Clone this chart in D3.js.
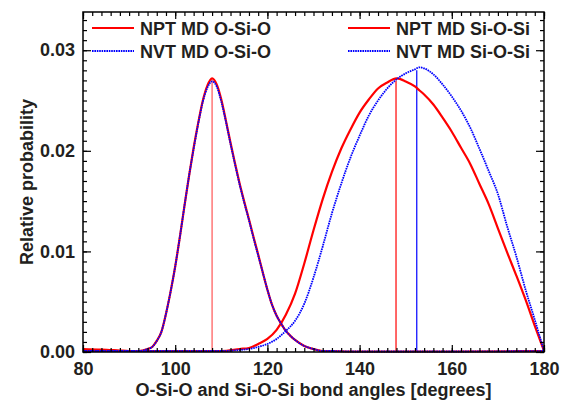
<!DOCTYPE html>
<html>
<head>
<meta charset="utf-8">
<script src="https://cdn.jsdelivr.net/npm/d3@7"></script>
<style>
  body { margin: 0; background: #fff; }
  svg text { font-family: "Liberation Sans", Arial, sans-serif; font-weight: bold; fill: #231f20; }
</style>
</head>
<body>
<div id="chart"></div>
<script>
// O-Si-O bond angle distribution (degrees, relative probability)
const osioAngles = [80, 84, 88, 90, 92, 94, 95, 96, 97, 98, 99, 100, 101, 102, 103, 104, 105, 106, 107, 108,
  109, 110, 111, 112, 113, 114, 115, 116, 117, 118, 119, 120, 121, 122, 123, 124, 125, 126, 128, 130,
  132, 134, 138, 145, 160, 180];
const osioNPT = [0.0003, 0.00025, 0.00015, 0.0001, 0.0001, 0.0003, 0.0005, 0.0011, 0.0020, 0.0038, 0.0060, 0.0085, 0.0114, 0.0145, 0.0175, 0.0203, 0.0228, 0.0250, 0.0265, 0.0272,
  0.0266, 0.0251, 0.0230, 0.0208, 0.0187, 0.0167, 0.0149, 0.0132, 0.0114, 0.0097, 0.0079, 0.0062, 0.0047, 0.0036, 0.0028, 0.0021, 0.0016, 0.0012, 0.0006, 0.0003,
  0.0001, 0.0001, 0.00005, 0.00005, 0.00005, 0.0001];
const osioNVT = [0.0001, 0.0001, 0.0001, 0.0001, 0.0001, 0.0003, 0.0005, 0.0011, 0.0020, 0.0038, 0.0060, 0.0085, 0.0114, 0.0145, 0.0175, 0.0202, 0.0227, 0.0249, 0.0263, 0.0269,
  0.0264, 0.0249, 0.0229, 0.0207, 0.0186, 0.0166, 0.0148, 0.0131, 0.0113, 0.0096, 0.0079, 0.0062, 0.0047, 0.0036, 0.0028, 0.0021, 0.0016, 0.0012, 0.0006, 0.0003,
  0.0001, 0.0001, 0.00005, 0.00005, 0.00005, 0.0001];

// Si-O-Si bond angle distribution
const siosiAngles = [80, 100, 105, 110, 114, 116, 118, 120, 122, 124, 126, 128, 130, 132, 134, 136, 138, 140, 142, 144,
  146, 148, 150, 152, 153, 154, 156, 158, 160, 162, 164, 166, 168, 170, 172, 174, 176, 178, 180];
const siosiNPT = [0.0001, 0.0001, 0.0001, 0.0001, 0.0003, 0.0004, 0.0008, 0.0013, 0.0022, 0.0037, 0.0058, 0.0088, 0.0121, 0.0152, 0.0179, 0.0202, 0.0221, 0.0238, 0.0251, 0.0262,
  0.0268, 0.0272, 0.0269, 0.0264, 0.0260, 0.0256, 0.0246, 0.0233, 0.0219, 0.0203, 0.0187, 0.0167, 0.0147, 0.0123, 0.0099, 0.0076, 0.0052, 0.0026, 0.0001];
const siosiNVT = [0.0001, 0.0001, 0.0001, 0.0001, 0.0002, 0.0003, 0.0005, 0.0008, 0.0013, 0.0021, 0.0031, 0.0048, 0.0074, 0.0105, 0.0138, 0.0167, 0.0193, 0.0215, 0.0235, 0.0250,
  0.0262, 0.0271, 0.0277, 0.0281, 0.0283, 0.0282, 0.0276, 0.0266, 0.0254, 0.0240, 0.0223, 0.0202, 0.0180, 0.0157, 0.0125, 0.0095, 0.0062, 0.0032, 0.0001];

// peak position markers
const peakAngles = [108, 147.9, 152.4];
const peakValues = [0.0271, 0.0270, 0.0280];
const peakColors = ["#ff5555", "#ff0000", "#0000ff"];

const xTicks = [80, 100, 120, 140, 160, 180];
const yTicks = [0, 0.01, 0.02, 0.03];

const legendLabels = ["NPT MD O-Si-O", "NVT MD O-Si-O", "NPT MD Si-O-Si", "NVT MD Si-O-Si"];

const width = 567;
const height = 403;
const margin = { top: 12, right: 23, bottom: 51, left: 83 };

const xScale = d3.scaleLinear()
                 .domain([80, 180])
                 .range([margin.left, width - margin.right]);

const yScale = d3.scaleLinear()
                 .domain([0, 0.0338])
                 .range([height - margin.bottom, margin.top]);

const svg = d3.select('#chart')
              .append('svg')
              .attr('width', width)
              .attr('height', height);

const line = d3.line()
               .curve(d3.curveMonotoneX)
               .x(d => xScale(d[0]))
               .y(d => yScale(d[1]));

const series = [
  { angles: osioAngles, values: osioNPT, color: '#ff0000', dash: null, w: 2.2 },
  { angles: siosiAngles, values: siosiNPT, color: '#ff0000', dash: null, w: 2.2 },
  { angles: osioAngles, values: osioNVT, color: '#0000ff', dash: '1.6,0.8', w: 1.8 },
  { angles: siosiAngles, values: siosiNVT, color: '#0000ff', dash: '1.6,0.8', w: 1.8 }
];

// peak lines
svg.selectAll('.peak')
   .data(peakAngles)
   .enter()
   .append('line')
   .attr('class', 'peak')
   .attr('x1', d => xScale(d))
   .attr('x2', d => xScale(d))
   .attr('y1', yScale(0))
   .attr('y2', (d, i) => yScale(peakValues[i]))
   .attr('stroke', (d, i) => peakColors[i])
   .attr('stroke-width', 1.2);

series.forEach(s => {
  svg.append('path')
     .datum(s.angles.map((a, i) => [a, s.values[i]]))
     .attr('d', line)
     .attr('fill', 'none')
     .attr('stroke', s.color)
     .attr('stroke-width', s.w)
     .attr('stroke-dasharray', s.dash);
});

// axes, ticks inward on all four sides
const plotH = height - margin.top - margin.bottom;
const plotW = width - margin.left - margin.right;

function styleAxis(g) {
  g.select('.domain').remove();
  g.selectAll('line').attr('stroke', '#000').attr('stroke-width', 1.2);
  g.selectAll('text').style('font-size', '18px').attr('fill', '#231f20');
}

const xMinor = d3.range(80, 181, 2);
const yMinor = d3.range(0, 0.0335, 0.001);

svg.append('g')
   .attr('transform', `translate(0, ${height - margin.bottom})`)
   .call(d3.axisBottom(xScale).tickValues(xMinor).tickSizeInner(-4).tickSizeOuter(0).tickFormat(''))
   .call(styleAxis);
svg.append('g')
   .attr('transform', `translate(0, ${height - margin.bottom})`)
   .call(d3.axisBottom(xScale).tickValues(xTicks).tickSizeInner(-7).tickSizeOuter(0).tickPadding(10).tickFormat(d3.format('d')))
   .call(styleAxis);

svg.append('g')
   .attr('transform', `translate(0, ${margin.top})`)
   .call(d3.axisTop(xScale).tickValues(xMinor).tickSizeInner(-4).tickSizeOuter(0).tickFormat(''))
   .call(styleAxis);
svg.append('g')
   .attr('transform', `translate(0, ${margin.top})`)
   .call(d3.axisTop(xScale).tickValues(xTicks).tickSizeInner(-7).tickSizeOuter(0).tickFormat(''))
   .call(styleAxis);

svg.append('g')
   .attr('transform', `translate(${margin.left}, 0)`)
   .call(d3.axisLeft(yScale).tickValues(yMinor).tickSizeInner(-4).tickSizeOuter(0).tickFormat(''))
   .call(styleAxis);
svg.append('g')
   .attr('transform', `translate(${margin.left}, 0)`)
   .call(d3.axisLeft(yScale).tickValues(yTicks).tickSizeInner(-8).tickSizeOuter(0).tickPadding(8).tickFormat(d3.format('.2f')))
   .call(styleAxis);

svg.append('g')
   .attr('transform', `translate(${width - margin.right}, 0)`)
   .call(d3.axisRight(yScale).tickValues(yMinor).tickSizeInner(-4).tickSizeOuter(0).tickFormat(''))
   .call(styleAxis);
svg.append('g')
   .attr('transform', `translate(${width - margin.right}, 0)`)
   .call(d3.axisRight(yScale).tickValues(yTicks).tickSizeInner(-8).tickSizeOuter(0).tickFormat(''))
   .call(styleAxis);

// frame
svg.append('rect')
   .attr('x', margin.left)
   .attr('y', margin.top)
   .attr('width', plotW)
   .attr('height', plotH)
   .attr('fill', 'none')
   .attr('stroke', '#000')
   .attr('stroke-width', 1.5);

// axis titles
svg.append('text')
   .attr('x', margin.left + plotW / 2)
   .attr('y', 396)
   .attr('text-anchor', 'middle')
   .style('font-size', '18px')
   .text('O-Si-O and Si-O-Si bond angles [degrees]');

svg.append('text')
   .attr('transform', `translate(33, ${margin.top + plotH / 2}) rotate(-90)`)
   .attr('text-anchor', 'middle')
   .style('font-size', '18px')
   .text('Relative probability');

// legend
const legendPos = [[92, 28], [92, 51], [348, 28], [348, 51]];
const legendStyle = [series[0], series[2], series[1], series[3]];

legendLabels.forEach((label, i) => {
  const [lx, ly] = legendPos[i];
  const s = legendStyle[i];
  svg.append('line')
     .attr('x1', lx)
     .attr('x2', lx + 42)
     .attr('y1', ly)
     .attr('y2', ly)
     .attr('stroke', s.color)
     .attr('stroke-width', s.w)
     .attr('stroke-dasharray', s.dash);
  svg.append('text')
     .attr('x', lx + 48)
     .attr('y', ly + 6.5)
     .style('font-size', '18px')
     .text(label);
});
</script>
</body>
</html>
